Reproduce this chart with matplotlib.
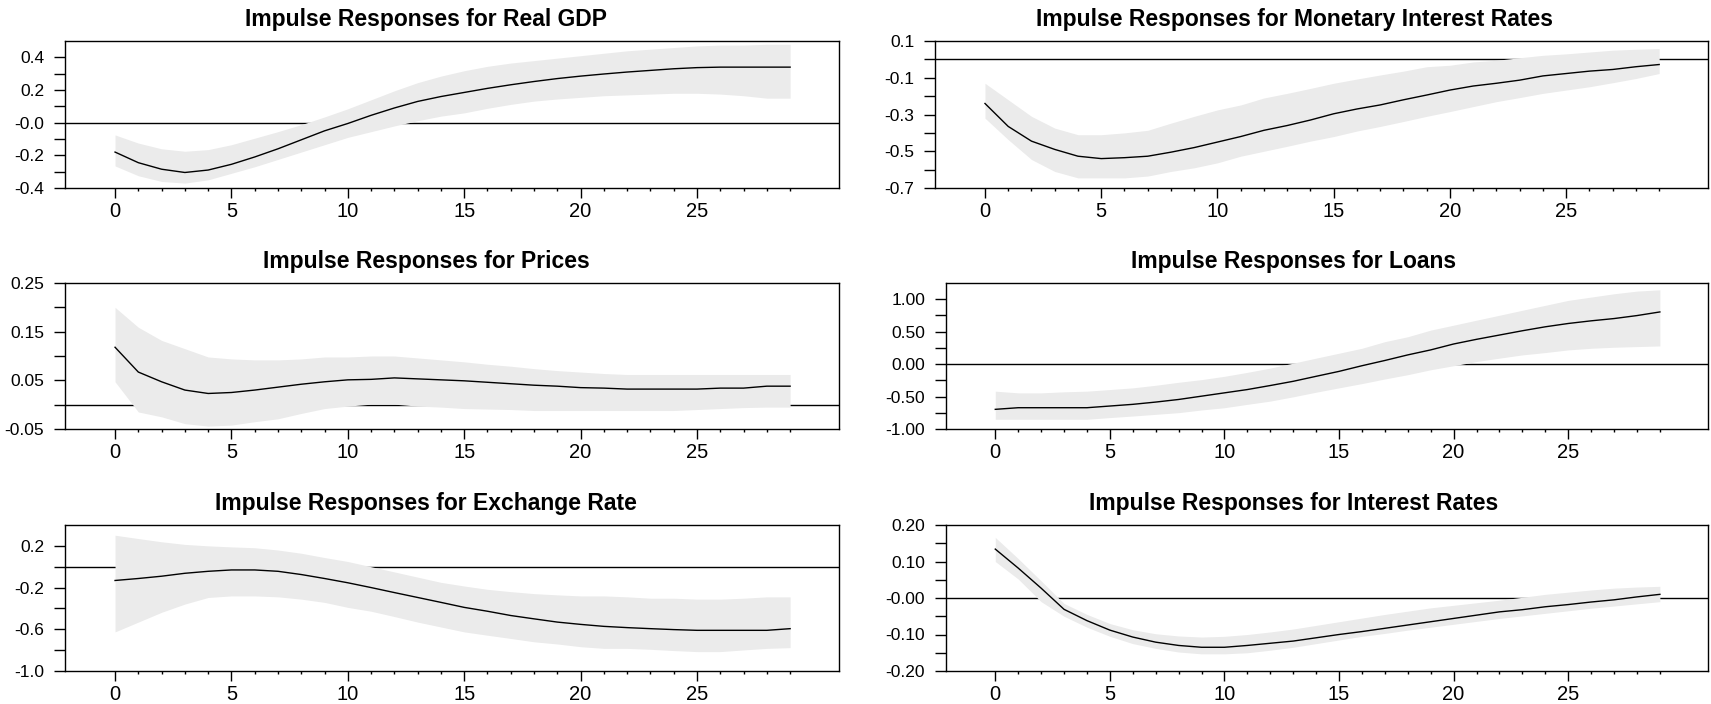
import numpy as np
import matplotlib
matplotlib.use('Agg')
import matplotlib.pyplot as plt

matplotlib.rcParams['font.family'] = ['Liberation Sans', 'DejaVu Sans']
matplotlib.rcParams['font.size'] = 12

horizon = list(range(30))

gdp_mid = [-0.18, -0.245, -0.285, -0.305, -0.29, -0.255, -0.21, -0.16, -0.105, -0.05,
           -0.005, 0.045, 0.09, 0.13, 0.16, 0.185, 0.21, 0.232, 0.252, 0.27,
           0.285, 0.298, 0.31, 0.32, 0.33, 0.337, 0.34, 0.34, 0.34, 0.34]
gdp_hi = [-0.075, -0.125, -0.16, -0.175, -0.165, -0.135, -0.095, -0.055, -0.012, 0.035,
          0.085, 0.14, 0.195, 0.245, 0.285, 0.318, 0.345, 0.365, 0.38, 0.395,
          0.41, 0.425, 0.44, 0.45, 0.46, 0.47, 0.475, 0.475, 0.48, 0.48]
gdp_lo = [-0.265, -0.325, -0.36, -0.37, -0.35, -0.31, -0.27, -0.225, -0.18, -0.135,
          -0.09, -0.055, -0.02, 0.012, 0.04, 0.06, 0.088, 0.112, 0.132, 0.145,
          0.155, 0.165, 0.17, 0.175, 0.18, 0.18, 0.175, 0.165, 0.15, 0.15]

mon_mid = [-0.24, -0.365, -0.445, -0.49, -0.527, -0.54, -0.535, -0.527, -0.505, -0.48,
           -0.45, -0.42, -0.386, -0.36, -0.33, -0.296, -0.27, -0.248, -0.22, -0.194,
           -0.167, -0.145, -0.13, -0.113, -0.09, -0.077, -0.064, -0.055, -0.04, -0.028]
mon_hi = [-0.13, -0.22, -0.31, -0.374, -0.41, -0.41, -0.40, -0.386, -0.347, -0.31,
          -0.275, -0.248, -0.21, -0.185, -0.158, -0.13, -0.107, -0.085, -0.064, -0.04,
          -0.032, -0.014, -0.005, 0.009, 0.022, 0.03, 0.04, 0.05, 0.055, 0.059]
mon_lo = [-0.32, -0.437, -0.545, -0.61, -0.645, -0.645, -0.645, -0.635, -0.61, -0.59,
          -0.563, -0.527, -0.5, -0.473, -0.445, -0.42, -0.39, -0.365, -0.338, -0.31,
          -0.284, -0.257, -0.23, -0.208, -0.185, -0.167, -0.149, -0.127, -0.104, -0.077]

prc_mid = [0.118, 0.067, 0.047, 0.03, 0.023, 0.025, 0.03, 0.036, 0.042, 0.047,
           0.051, 0.052, 0.055, 0.053, 0.051, 0.049, 0.046, 0.043, 0.04, 0.038,
           0.035, 0.034, 0.032, 0.032, 0.032, 0.032, 0.034, 0.034, 0.038, 0.038]
prc_hi = [0.2, 0.159, 0.132, 0.115, 0.098, 0.094, 0.092, 0.092, 0.094, 0.098,
          0.098, 0.1, 0.1, 0.096, 0.092, 0.088, 0.083, 0.079, 0.074, 0.07,
          0.067, 0.064, 0.062, 0.062, 0.062, 0.062, 0.062, 0.062, 0.062, 0.062]
prc_lo = [0.047, -0.015, -0.025, -0.039, -0.044, -0.042, -0.035, -0.029, -0.018, -0.008,
          -0.003, 0.001, 0.001, -0.003, -0.005, -0.008, -0.009, -0.01, -0.012, -0.012,
          -0.012, -0.012, -0.012, -0.012, -0.012, -0.01, -0.008, -0.006, -0.005, -0.005]

loan_mid = [-0.697, -0.672, -0.672, -0.672, -0.672, -0.646, -0.62, -0.585, -0.545, -0.494,
            -0.443, -0.392, -0.33, -0.265, -0.188, -0.112, -0.025, 0.056, 0.142, 0.219,
            0.31, 0.382, 0.448, 0.514, 0.575, 0.626, 0.667, 0.702, 0.748, 0.804]
loan_hi = [-0.417, -0.443, -0.443, -0.427, -0.417, -0.392, -0.366, -0.326, -0.28, -0.239,
           -0.188, -0.127, -0.061, 0.015, 0.092, 0.168, 0.244, 0.346, 0.422, 0.524,
           0.6, 0.677, 0.753, 0.83, 0.906, 0.982, 1.033, 1.084, 1.125, 1.145]
loan_lo = [-0.85, -0.85, -0.85, -0.85, -0.85, -0.824, -0.8, -0.774, -0.748, -0.707,
           -0.672, -0.62, -0.57, -0.504, -0.433, -0.366, -0.3, -0.229, -0.163, -0.087,
           -0.025, 0.04, 0.092, 0.142, 0.178, 0.219, 0.244, 0.26, 0.27, 0.28]

fx_mid = [-0.132, -0.113, -0.091, -0.063, -0.044, -0.031, -0.031, -0.044, -0.075, -0.113,
          -0.154, -0.2, -0.248, -0.295, -0.342, -0.39, -0.427, -0.468, -0.5, -0.531,
          -0.553, -0.572, -0.584, -0.594, -0.603, -0.61, -0.61, -0.61, -0.61, -0.594]
fx_hi = [0.302, 0.27, 0.239, 0.214, 0.2, 0.19, 0.182, 0.16, 0.129, 0.088,
         0.05, 0.0, -0.05, -0.1, -0.15, -0.185, -0.217, -0.239, -0.258, -0.27,
         -0.28, -0.28, -0.289, -0.302, -0.302, -0.311, -0.311, -0.302, -0.289, -0.289]
fx_lo = [-0.625, -0.531, -0.437, -0.358, -0.295, -0.28, -0.28, -0.289, -0.311, -0.342,
         -0.39, -0.427, -0.478, -0.531, -0.578, -0.625, -0.657, -0.688, -0.72, -0.741,
         -0.767, -0.783, -0.783, -0.792, -0.804, -0.814, -0.814, -0.798, -0.783, -0.776]

ir_mid = [0.134, 0.082, 0.027, -0.031, -0.062, -0.088, -0.107, -0.121, -0.13, -0.135,
          -0.135, -0.13, -0.124, -0.118, -0.109, -0.1, -0.092, -0.083, -0.074, -0.065,
          -0.056, -0.047, -0.038, -0.032, -0.024, -0.018, -0.011, -0.005, 0.003, 0.01]
ir_hi = [0.166, 0.108, 0.047, -0.015, -0.045, -0.07, -0.087, -0.098, -0.104, -0.107,
         -0.105, -0.1, -0.093, -0.085, -0.075, -0.065, -0.055, -0.045, -0.036, -0.027,
         -0.02, -0.013, -0.006, 0.002, 0.01, 0.016, 0.022, 0.027, 0.03, 0.032]
ir_lo = [0.1, 0.052, -0.01, -0.05, -0.08, -0.105, -0.125, -0.138, -0.148, -0.153,
         -0.153, -0.15, -0.143, -0.135, -0.125, -0.115, -0.105, -0.097, -0.088, -0.08,
         -0.072, -0.064, -0.056, -0.049, -0.042, -0.035, -0.028, -0.022, -0.016, -0.01]

titles = ['Real GDP', 'Monetary Interest Rates', 'Prices', 'Loans',
          'Exchange Rate', 'Interest Rates']
series = [(gdp_mid, gdp_lo, gdp_hi), (mon_mid, mon_lo, mon_hi),
          (prc_mid, prc_lo, prc_hi), (loan_mid, loan_lo, loan_hi),
          (fx_mid, fx_lo, fx_hi), (ir_mid, ir_lo, ir_hi)]

ylims = [(-0.4, 0.5), (-0.7, 0.1), (-0.05, 0.25), (-1.0, 1.25), (-1.0, 0.4), (-0.2, 0.2)]
yticks = [[-0.4, -0.2, 0.0, 0.2, 0.4],
          [-0.7, -0.5, -0.3, -0.1, 0.1],
          [-0.05, 0.05, 0.15, 0.25],
          [-1.0, -0.5, 0.0, 0.5, 1.0],
          [-1.0, -0.6, -0.2, 0.2],
          [-0.2, -0.1, 0.0, 0.1, 0.2]]
ylabels = [['-0.4', '-0.2', '-0.0', '0.2', '0.4'],
           ['-0.7', '-0.5', '-0.3', '-0.1', '0.1'],
           ['-0.05', '0.05', '0.15', '0.25'],
           ['-1.00', '-0.50', '0.00', '0.50', '1.00'],
           ['-1.0', '-0.6', '-0.2', '0.2'],
           ['-0.20', '-0.10', '-0.00', '0.10', '0.20']]
yminor = [[-0.3, -0.1, 0.1, 0.3],
          [-0.6, -0.4, -0.2, 0.0],
          [0.0, 0.1, 0.2],
          [-0.75, -0.25, 0.25, 0.75],
          [-0.8, -0.4, 0.0],
          [-0.15, -0.05, 0.05, 0.15]]

W, H = 1711, 704
# axes boxes in pixels: left, top, right, bottom
boxes = [(65, 41, 839, 188), (935, 41, 1708, 188),
         (65, 283, 839, 429), (946, 283, 1708, 429),
         (65, 525, 839, 671), (946, 525, 1708, 671)]
title_x = [426, 1294]
narrow = ['Liberation Sans Narrow', 'Liberation Sans']

fig = plt.figure(figsize=(W / 100, H / 100), dpi=100)

for i, (name, (mid, lo, hi)) in enumerate(zip(titles, series)):
    l, t, r, b = boxes[i]
    ax = fig.add_axes([l / W, 1 - b / H, (r - l) / W, (b - t) / H])

    ax.axhline(0, color='black', lw=1.0, zorder=1)
    ax.fill_between(horizon, lo, hi, color='#ebebeb', lw=0, zorder=2)
    ax.plot(horizon, mid, color='black', lw=1.0, zorder=3)

    ax.set_xlim(-2.15, 31.1)
    ax.set_ylim(*ylims[i])
    ax.set_xticks(range(0, 30, 5))
    ax.set_xticks(horizon, minor=True)
    ax.set_yticks(yticks[i], ylabels[i])
    ax.set_yticks(yminor[i], minor=True)
    ax.tick_params(axis='y', which='both', direction='out', length=8, width=1)
    ax.tick_params(axis='y', which='major', pad=7, labelsize=12.5)
    ax.tick_params(axis='x', which='major', direction='out', length=7, width=1, pad=3)
    ax.tick_params(axis='x', which='minor', direction='out', length=2.5, width=1)
    for lab in ax.get_xticklabels():
        lab.set_family(narrow)
        lab.set_fontsize(14.5)
    for sp in ax.spines.values():
        sp.set_linewidth(1.0)

    fig.text(title_x[i % 2] / W, 1 - (t - 21.5) / H, 'Impulse Responses for ' + name,
             ha='center', va='center', fontsize=16.5, fontweight='bold')

fig.savefig('out.png', dpi=100)
